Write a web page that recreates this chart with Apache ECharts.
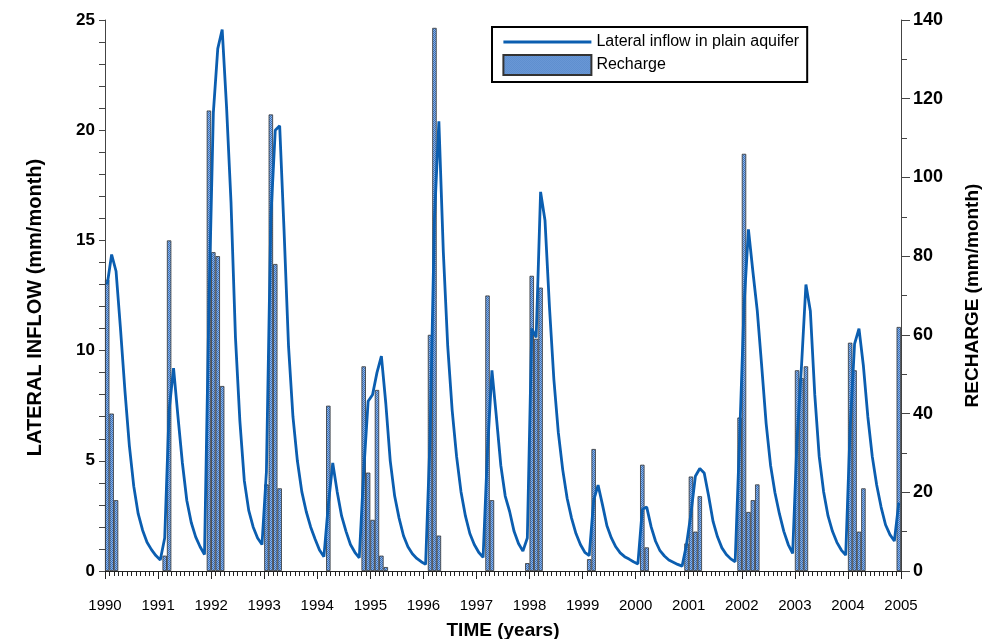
<!DOCTYPE html>
<html>
<head>
<meta charset="utf-8">
<script src="https://cdn.jsdelivr.net/npm/echarts@6/dist/echarts.min.js"></script>
<style>
html,body{margin:0;padding:0;background:#fff;}
#chart{width:988px;height:639px;}
</style>
</head>
<body>
<div id="chart"></div>
<script>
// Years on the time axis
const startYear = 1990;
const endYear = 2005;
const yearTicks = [1990,1991,1992,1993,1994,1995,1996,1997,1998,1999,2000,2001,2002,2003,2004,2005];

// Monthly recharge (mm/month), Jan..Dec of each year
const recharge1990 = [74,40,18,0,0,0,0,0,0,0,0,0];
const recharge1991 = [0,3.9,84,0,0,0,0,0,0,0,0,117];
const recharge1992 = [81,80,47,0,0,0,0,0,0,0,0,0];
const recharge1993 = [22,116,78,21,0,0,0,0,0,0,0,0];
const recharge1994 = [0,0,42,0,0,0,0,0,0,0,52,25];
const recharge1995 = [13,46,3.9,1.0,0,0,0,0,0,0,0,0];
const recharge1996 = [0,60,138,9,0,0,0,0,0,0,0,0];
const recharge1997 = [0,0,70,18,0,0,0,0,0,0,0,2];
const recharge1998 = [75,59,72,0,0,0,0,0,0,0,0,0];
const recharge1999 = [0,3,31,0,0,0,0,0,0,0,0,0];
const recharge2000 = [0,27,6,0,0,0,0,0,0,0,0,7];
const recharge2001 = [24,10,19,0,0,0,0,0,0,0,0,39];
const recharge2002 = [106,15,18,22,0,0,0,0,0,0,0,0];
const recharge2003 = [51,49,52,0,0,0,0,0,0,0,0,0];
const recharge2004 = [58,51,10,21,0,0,0,0,0,0,0,62];

// Monthly lateral inflow in plain aquifer (mm/month)
const inflow1990 = [13.0,14.36,13.6,11.0,8.2,5.7,3.85,2.6,1.85,1.3,0.97,0.7];
const inflow1991 = [0.5,1.5,7.3,9.2,7.0,4.9,3.2,2.2,1.55,1.1,0.75,12.0];
const inflow1992 = [20.8,23.7,24.57,21.0,16.7,10.6,6.8,4.1,2.75,2.0,1.5,1.2];
const inflow1993 = [4.5,16.0,20.0,20.2,15.4,10.2,7.0,5.0,3.6,2.7,2.0,1.45];
const inflow1994 = [0.95,0.65,3.0,4.9,3.6,2.5,1.8,1.2,0.85,0.6,4.5,7.7];
const inflow1995 = [8.0,9.0,9.75,7.6,5.0,3.4,2.4,1.6,1.1,0.78,0.57,0.42];
const inflow1996 = [0.3,6.0,16.0,20.4,14.5,10.2,7.3,5.2,3.6,2.5,1.7,1.2];
const inflow1997 = [0.85,0.62,5.5,9.1,7.0,4.8,3.4,2.7,1.8,1.25,0.9,1.5];
const inflow1998 = [11.0,10.6,17.2,15.9,12.0,8.7,6.3,4.6,3.3,2.4,1.7,1.2];
const inflow1999 = [0.85,0.7,3.2,3.9,3.0,2.05,1.5,1.1,0.82,0.65,0.54,0.42];
const inflow2000 = [0.32,2.8,2.9,2.0,1.35,0.92,0.68,0.5,0.4,0.3,0.22,1.2];
const inflow2001 = [2.6,4.3,4.65,4.45,3.4,2.25,1.55,1.05,0.75,0.55,0.42,6.0];
const inflow2002 = [12.0,15.5,13.6,11.8,9.3,6.7,4.8,3.55,2.6,1.8,1.2,0.8];
const inflow2003 = [6.0,9.3,13.0,11.8,8.0,5.2,3.6,2.5,1.8,1.3,0.95,0.72];
const inflow2004 = [6.5,10.3,11.0,9.3,7.0,5.2,3.9,2.9,2.1,1.65,1.36,3.1];

const rechargeMonthly = [].concat(recharge1990,recharge1991,recharge1992,recharge1993,recharge1994,
  recharge1995,recharge1996,recharge1997,recharge1998,recharge1999,recharge2000,recharge2001,
  recharge2002,recharge2003,recharge2004);
const inflowMonthly = [].concat(inflow1990,inflow1991,inflow1992,inflow1993,inflow1994,
  inflow1995,inflow1996,inflow1997,inflow1998,inflow1999,inflow2000,inflow2001,
  inflow2002,inflow2003,inflow2004);

const monthTime = i => startYear + (i + 0.5) / 12;
const barData = rechargeMonthly.map((v, i) => [monthTime(i), v > 0 ? v : '-']);
const lineData = inflowMonthly.map((v, i) => [monthTime(i), v]);

// dithered fill like the original hatch
const pc = document.createElement('canvas');
pc.width = 2; pc.height = 2;
const pctx = pc.getContext('2d');
pctx.fillStyle = '#8fb7e8'; pctx.fillRect(0,0,2,2);
pctx.fillStyle = '#3a70bd'; pctx.fillRect(0,0,1,1); pctx.fillRect(1,1,1,1);

const chart = echarts.init(document.getElementById('chart'), null, {renderer: 'canvas'});
const FONT = "'Liberation Sans', Arial, sans-serif";
const NARROW = "'Liberation Sans Narrow', 'Liberation Sans', Arial, sans-serif";
const LINE_COLOR = '#0b5eb0';

chart.setOption({
  animation: false,
  backgroundColor: '#ffffff',
  grid: {left: 105, right: 87, top: 20, bottom: 68, containLabel: false, outerBoundsMode: 'none'},
  legend: {
    orient: 'vertical',
    left: 492, top: 27,
    padding: [7, 8, 6, 10],
    borderColor: '#000', borderWidth: 2,
    backgroundColor: '#fff',
    itemWidth: 88, itemHeight: 20, itemGap: 4,
    textStyle: {fontFamily: FONT, fontSize: 16, color: '#000'},
    data: [
      {name: 'Lateral inflow in plain aquifer',
       itemStyle: {color: 'rgba(0,0,0,0)', borderColor: 'rgba(0,0,0,0)', borderWidth: 0},
       lineStyle: {color: LINE_COLOR, width: 2.8}},
      {name: 'Recharge', icon: 'rect'}
    ]
  },
  xAxis: {
    type: 'value', min: startYear, max: endYear, interval: 1,
    name: 'TIME (years)', nameLocation: 'middle', nameGap: 50,
    nameTextStyle: {fontFamily: FONT, fontSize: 19, fontWeight: 'bold', color: '#000'},
    axisLine: {show: true, onZero: false, lineStyle: {color: '#222', width: 1}},
    axisTick: {show: true, length: 8, lineStyle: {color: '#222'}},
    minorTick: {show: true, splitNumber: 12, length: 5, lineStyle: {color: '#222'}},
    splitLine: {show: false},
    axisLabel: {margin: 27, fontFamily: NARROW, fontSize: 15, color: '#000',
      formatter: v => yearTicks.indexOf(Math.round(v)) >= 0 ? String(Math.round(v)) : ''}
  },
  yAxis: [
    {
      type: 'value', min: 0, max: 25, interval: 5, position: 'left',
      name: 'LATERAL INFLOW (mm/month)', nameLocation: 'middle', nameGap: 60, nameRotate: 90,
      nameTextStyle: {fontFamily: FONT, fontSize: 20, fontWeight: 'bold', color: '#000',
        padding: [0, 24, 0, 0]},
      axisLine: {show: true, lineStyle: {color: '#444', width: 1}},
      axisTick: {show: true, length: 6, lineStyle: {color: '#444'}},
      minorTick: {show: true, splitNumber: 5, length: 6, lineStyle: {color: '#444'}},
      splitLine: {show: false},
      axisLabel: {margin: 10, fontFamily: FONT, fontSize: 17, fontWeight: 'bold', color: '#000'}
    },
    {
      type: 'value', min: 0, max: 140, interval: 20, position: 'right',
      name: 'RECHARGE (mm/month)', nameLocation: 'middle', nameGap: 62, nameRotate: 90,
      nameTextStyle: {fontFamily: FONT, fontSize: 19, fontWeight: 'bold', color: '#000'},
      axisLine: {show: true, lineStyle: {color: '#444', width: 1}},
      axisTick: {show: true, length: 9, lineStyle: {color: '#444'}},
      minorTick: {show: true, splitNumber: 2, length: 6, lineStyle: {color: '#444'}},
      splitLine: {show: false},
      axisLabel: {margin: 12, fontFamily: FONT, fontSize: 18, fontWeight: 'bold', color: '#000'}
    }
  ],
  series: [
    {
      name: 'Recharge', type: 'bar', yAxisIndex: 1,
      data: barData, barWidth: 4.42, barGap: '0%',
      itemStyle: {color: {image: pc, repeat: 'repeat'}, borderColor: '#333', borderWidth: 0.8},
      z: 2
    },
    {
      name: 'Lateral inflow in plain aquifer', type: 'line', yAxisIndex: 0,
      data: lineData, showSymbol: false, symbol: 'none',
      lineStyle: {color: LINE_COLOR, width: 2.8},
      itemStyle: {color: LINE_COLOR},
      z: 3
    }
  ]
});
</script>
</body>
</html>
